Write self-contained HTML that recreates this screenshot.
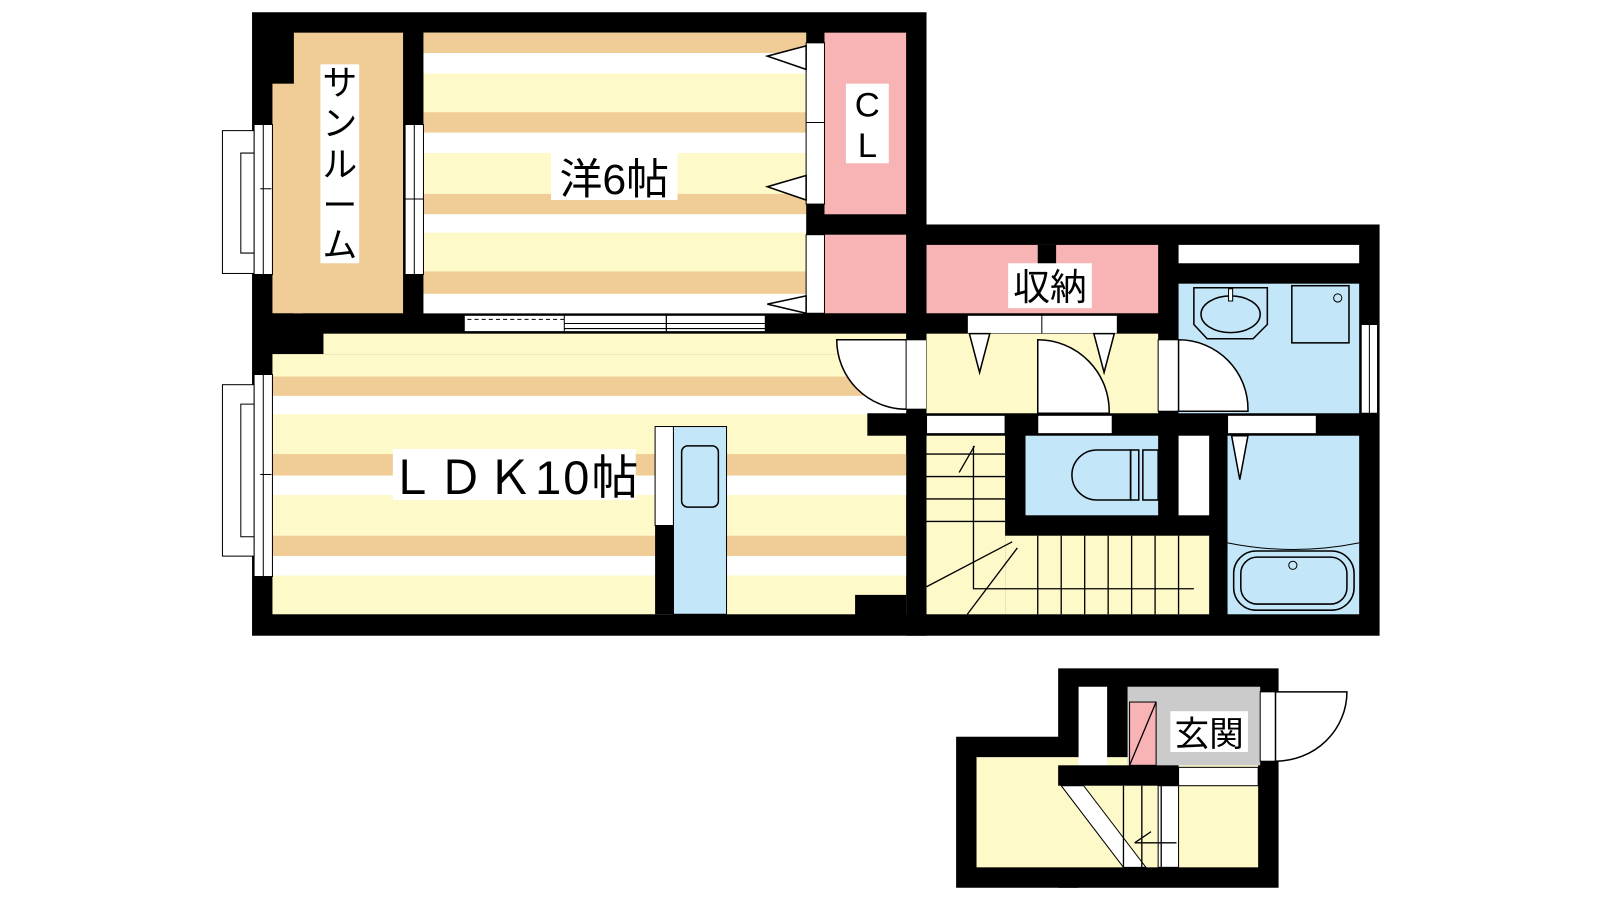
<!DOCTYPE html>
<html><head><meta charset="utf-8"><style>
body{margin:0;background:#fff;width:1600px;height:900px;overflow:hidden}
svg{display:block}
text{font-family:"Liberation Sans","Noto Sans CJK JP",sans-serif;fill:#000}
</style></head><body>
<svg width="1600" height="900" viewBox="0 0 1600 900" xmlns="http://www.w3.org/2000/svg">
<g transform="scale(1.0204)">
<rect x="247" y="12" width="661" height="611" fill="#000"/>
<rect x="888" y="220" width="464" height="403" fill="#000"/>
<rect x="288" y="32" width="107" height="275" fill="#f0cc97"/>
<rect x="267" y="82" width="30" height="225" fill="#f0cc97"/>
<rect x="415" y="32" width="375" height="275" fill="#fef9c8"/>
<g fill="#f0cc97">
<rect x="415" y="32" width="375" height="20"/><rect x="415" y="110" width="375" height="20"/>
<rect x="415" y="190" width="375" height="20"/><rect x="415" y="266" width="375" height="22"/></g>
<g fill="#fff">
<rect x="415" y="52" width="375" height="20"/><rect x="415" y="130" width="375" height="20"/>
<rect x="415" y="210" width="375" height="18"/><rect x="415" y="288" width="375" height="19"/></g>
<rect x="808" y="32" width="80" height="178" fill="#f8b4b5"/>
<rect x="808" y="230" width="80" height="77" fill="#f8b4b5"/>
<rect x="790" y="42" width="18" height="158" fill="#fff" stroke="#000" stroke-width="1"/>
<line x1="790" y1="120" x2="808" y2="120" stroke="#000"/>
<rect x="790" y="230" width="18" height="77" fill="#fff" stroke="#000" stroke-width="1"/>
<g fill="#fff" stroke="#000" stroke-width="1.5">
<polygon points="790,45 752,55 790,68"/><polygon points="790,172 752,183 790,196"/><polygon points="790,290 752,298 790,307"/></g>
<rect x="249" y="122" width="18" height="147" fill="#fff" stroke="#000"/>
<line x1="258" y1="122" x2="258" y2="269" stroke="#000"/>
<rect x="218" y="128" width="31" height="140" fill="#fff" stroke="#000"/>
<polyline points="249,150 236,150 236,248 249,248" fill="none" stroke="#000"/>
<rect x="397" y="122" width="18" height="147" fill="#fff" stroke="#000"/>
<line x1="406" y1="122" x2="406" y2="269" stroke="#000"/>
<line x1="397" y1="195" x2="415" y2="195" stroke="#000"/>
<line x1="255" y1="185" x2="266" y2="185" stroke="#000"/>
<rect x="455" y="309" width="295" height="16" fill="#fff" stroke="#000"/>
<line x1="458" y1="313" x2="553" y2="313" stroke="#000" stroke-dasharray="4,3"/>
<rect x="553" y="309" width="100" height="16" fill="#fff" stroke="#000"/>
<line x1="553" y1="317" x2="750" y2="317" stroke="#000"/>
<line x1="553" y1="322" x2="750" y2="322" stroke="#000"/>
<line x1="653" y1="309" x2="653" y2="325" stroke="#000"/>
<rect x="267" y="347" width="621" height="255" fill="#fef9c8"/>
<rect x="317" y="327" width="571" height="20" fill="#fef9c8"/>
<g fill="#f0cc97">
<rect x="267" y="369" width="621" height="19"/><rect x="267" y="445" width="621" height="21"/><rect x="267" y="525" width="621" height="20"/></g>
<g fill="#fff">
<rect x="267" y="388" width="621" height="18"/><rect x="267" y="466" width="621" height="19"/><rect x="267" y="545" width="621" height="19"/></g>
<rect x="850" y="405" width="40" height="22" fill="#000"/>
<rect x="838" y="583" width="50" height="20" fill="#000"/>
<rect x="249" y="367" width="18" height="198" fill="#fff" stroke="#000"/>
<line x1="258" y1="367" x2="258" y2="565" stroke="#000"/>
<rect x="218" y="377" width="31" height="168" fill="#fff" stroke="#000"/>
<polyline points="249,396 236,396 236,526 249,526" fill="none" stroke="#000"/>
<line x1="255" y1="465" x2="266" y2="465" stroke="#000"/>
<rect x="642" y="418" width="18" height="97" fill="#fff" stroke="#000"/>
<rect x="642" y="515" width="18" height="87" fill="#000"/>
<rect x="660" y="418" width="52" height="184" fill="#c3e7f8" stroke="#000"/>
<rect x="668" y="437" width="36" height="60" rx="6" fill="none" stroke="#000" stroke-width="1.5"/>
<path d="M888,333 L820,333 A68,68 0 0 0 888,401" fill="#fff" stroke="#000" stroke-width="1.5"/>
<rect x="888" y="333" width="20" height="68" fill="#fff" stroke="#000"/>
<rect x="908" y="240" width="227" height="67" fill="#f8b4b5"/>
<rect x="1017" y="240" width="18" height="22" fill="#000"/>
<rect x="948" y="309" width="147" height="18" fill="#fff" stroke="#000"/>
<line x1="1021" y1="309" x2="1021" y2="327" stroke="#000"/>
<rect x="908" y="327" width="227" height="78" fill="#fef9c8"/>
<g fill="#fff" stroke="#000" stroke-width="1.5">
<polygon points="950,327 970,327 960,365"/><polygon points="1072,327 1092,327 1082,365"/></g>
<path d="M1017,333 A70,70 0 0 1 1087,405 L1017,405 Z" fill="#fff" stroke="#000" stroke-width="1.5"/>
<rect x="1155" y="240" width="177" height="18" fill="#fff"/>
<rect x="1155" y="278" width="177" height="127" fill="#c3e7f8"/>
<rect x="1135" y="333" width="20" height="70" fill="#fff" stroke="#000"/>
<path d="M1155,333 A68,68 0 0 1 1223,403 L1155,403 Z" fill="#fff" stroke="#000" stroke-width="1.5"/>
<path d="M1170,282 L1242,282 L1242,318 L1228,332 L1183,332 L1170,318 Z" fill="none" stroke="#000" stroke-width="1.5"/>
<ellipse cx="1206" cy="308" rx="29" ry="18" fill="none" stroke="#000" stroke-width="1.5"/>
<rect x="1204" y="283" width="4" height="12" fill="#fff" stroke="#000"/>
<rect x="1266" y="280" width="56" height="56" fill="none" stroke="#000" stroke-width="1.5"/>
<circle cx="1311" cy="292" r="4" fill="none" stroke="#000"/>
<rect x="1334" y="318" width="16" height="87" fill="#fff" stroke="#000"/>
<line x1="1342" y1="318" x2="1342" y2="405" stroke="#000"/>
<rect x="908" y="407" width="77" height="18" fill="#fff" stroke="#000"/>
<rect x="1017" y="407" width="73" height="18" fill="#fff" stroke="#000"/>
<rect x="1203" y="407" width="87" height="18" fill="#fff" stroke="#000"/>
<rect x="1005" y="427" width="130" height="78" fill="#c3e7f8"/>
<path d="M1108,441 L1075,441 A22,22 0 0 0 1075,490 L1108,490 Z" fill="none" stroke="#000" stroke-width="1.5"/>
<rect x="1108" y="441" width="8" height="49" fill="none" stroke="#000" stroke-width="1.5"/>
<rect x="1120" y="441" width="15" height="49" fill="none" stroke="#000" stroke-width="1.5"/>
<rect x="1155" y="427" width="30" height="78" fill="#fff"/>
<rect x="1203" y="427" width="129" height="175" fill="#c3e7f8"/>
<polygon points="1207,427 1223,427 1215,470" fill="#fff" stroke="#000" stroke-width="1.5"/>
<path d="M1203,532 Q1267,545 1332,532" fill="none" stroke="#000"/>
<rect x="1209" y="540" width="118" height="58" rx="22" fill="none" stroke="#000" stroke-width="1.5"/>
<rect x="1216" y="546" width="104" height="46" rx="16" fill="none" stroke="#000" stroke-width="1.5"/>
<circle cx="1267" cy="554" r="4" fill="none" stroke="#000"/>
<rect x="908" y="427" width="77" height="175" fill="#fef9c8"/>
<rect x="985" y="525" width="200" height="77" fill="#fef9c8"/>
<g stroke="#000" stroke-width="1.3" fill="none">
<line x1="908" y1="445" x2="985" y2="445"/><line x1="908" y1="467" x2="985" y2="467"/>
<line x1="908" y1="489" x2="985" y2="489"/><line x1="908" y1="511" x2="985" y2="511"/>
<polyline points="954,437 954,577 1170,577"/>
<line x1="955" y1="437" x2="940" y2="463"/>
<line x1="908" y1="575" x2="992" y2="531"/><line x1="948" y1="602" x2="997" y2="537"/>
<line x1="1017" y1="525" x2="1017" y2="602"/><line x1="1040" y1="525" x2="1040" y2="602"/>
<line x1="1063" y1="525" x2="1063" y2="602"/><line x1="1086" y1="525" x2="1086" y2="602"/>
<line x1="1109" y1="525" x2="1109" y2="602"/><line x1="1132" y1="525" x2="1132" y2="602"/>
<line x1="1155" y1="525" x2="1155" y2="602"/></g>
<rect x="1037" y="655" width="216" height="215" fill="#000"/>
<rect x="937" y="722" width="120" height="148" fill="#000"/>
<rect x="957" y="742" width="276" height="108" fill="#fef9c8"/>
<rect x="1057" y="673" width="28" height="77" fill="#fff"/>
<rect x="1105" y="673" width="130" height="77" fill="#cbcbcb"/>
<rect x="1107" y="688" width="26" height="62" fill="#f8b4b5" stroke="#000"/>
<line x1="1107" y1="750" x2="1133" y2="688" stroke="#000" stroke-width="1.3"/>
<rect x="1037" y="750" width="118" height="20" fill="#000"/>
<rect x="1155" y="752" width="78" height="18" fill="#fff" stroke="#000"/>
<rect x="1135" y="770" width="20" height="80" fill="#fff" stroke="#000"/>
<polygon points="1040,770 1062,770 1123,850 1101,850" fill="#fff" stroke="#000"/>
<g stroke="#000" stroke-width="1.3">
<line x1="1101" y1="770" x2="1101" y2="850"/><line x1="1119" y1="770" x2="1119" y2="850"/><line x1="1138" y1="770" x2="1138" y2="850"/>
<line x1="1112" y1="826" x2="1153" y2="826"/><line x1="1112" y1="826" x2="1128" y2="815"/></g>
<rect x="1235" y="678" width="15" height="68" fill="#fff" stroke="#000"/>
<path d="M1250,678 L1320,678 A70,68 0 0 1 1250,746 Z" fill="#fff" stroke="#000" stroke-width="1.5"/>
<rect x="314" y="63" width="38" height="195" fill="#fff"/>
<text x="333" y="93" font-size="34" text-anchor="middle">サ</text>
<text x="333" y="133" font-size="34" text-anchor="middle">ン</text>
<text x="333" y="173" font-size="34" text-anchor="middle">ル</text>
<text x="333" y="213" font-size="34" text-anchor="middle">ー</text>
<text x="333" y="252" font-size="34" text-anchor="middle">ム</text>
<rect x="540" y="150" width="124" height="46" fill="#fff"/>
<text x="602" y="190" font-size="42" text-anchor="middle">洋6帖</text>
<rect x="385" y="440" width="238" height="50" fill="#fff"/>
<text x="504" y="484" font-size="46" text-anchor="middle" letter-spacing="2">ＬＤＫ10帖</text>
<rect x="829" y="82" width="42" height="78" fill="#fff"/>
<text x="850" y="114" font-size="34" text-anchor="middle">C</text>
<text x="850" y="154" font-size="34" text-anchor="middle">L</text>
<rect x="988" y="258" width="82" height="44" fill="#fff"/>
<text x="1029" y="294" font-size="36" text-anchor="middle">収納</text>
<rect x="1147" y="697" width="76" height="40" fill="#fff"/>
<text x="1185" y="731" font-size="34" text-anchor="middle">玄関</text>
</g>
</svg>
</body></html>
